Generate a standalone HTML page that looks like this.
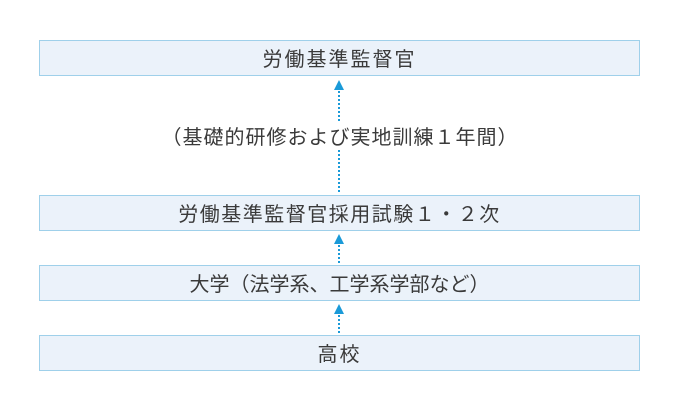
<!DOCTYPE html>
<html><head><meta charset="utf-8"><style>
body{margin:0;width:680px;height:410px;background:#fff;overflow:hidden;position:relative;font-family:"Noto Sans CJK JP","Liberation Sans",sans-serif;color:#3a3a3a}
.b{position:absolute;left:39px;width:599px;height:34px;background:#ebf2fa;border:1px solid #9fd0ea;text-align:center;line-height:33px;font-size:20px;font-weight:400}
.d{position:absolute;left:338px;width:2px;background:repeating-linear-gradient(to bottom,#1a9ad8 0 2px,transparent 2px 4px)}
.a{position:absolute;left:334px;width:0;height:0;border-left:5.5px solid transparent;border-right:5.5px solid transparent;border-bottom:10px solid #1a9ad8}
.t{position:absolute;left:0;width:680px;text-align:center;font-size:20px;font-weight:400;letter-spacing:1px}
</style></head><body>
<div class="b" style="top:40px;letter-spacing:2px">労働基準監督官</div>
<div class="a" style="top:80px"></div>
<div class="d" style="top:91px;height:30px"></div>
<div class="t" style="top:121px">（基礎的研修および実地訓練１年間）</div>
<div class="d" style="top:150px;height:44px"></div>
<div class="b" style="top:195px;letter-spacing:1.5px">労働基準監督官採用試験１・２次</div>
<div class="a" style="top:234px"></div>
<div class="d" style="top:245px;height:19px"></div>
<div class="b" style="top:265px">大学（法学系、工学系学部など）</div>
<div class="a" style="top:304px"></div>
<div class="d" style="top:315px;height:19px"></div>
<div class="b" style="top:335px;letter-spacing:2px">高校</div>
</body></html>
